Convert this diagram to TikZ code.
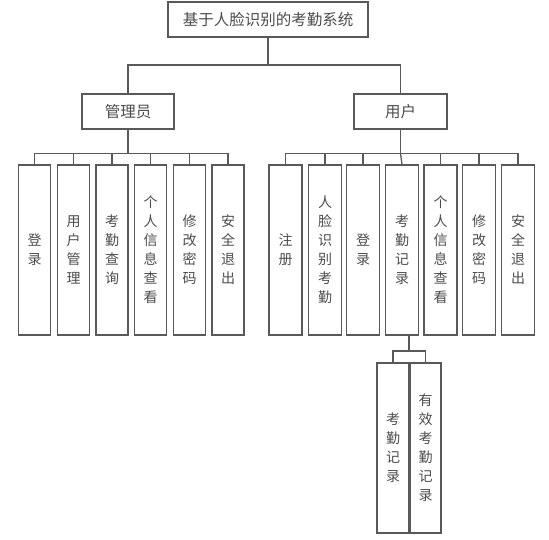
\documentclass[tikz,border=0pt]{standalone}
\usepackage{fontspec}
\newfontfamily\cjk{Noto Sans CJK SC}
\usepackage{tikz}
\usetikzlibrary{positioning,calc}

\begin{document}
\begin{tikzpicture}[x=1pt,y=-1pt,
  hbox/.style ={rectangle,draw=black!65,line width=1.1pt,inner sep=0pt,
                minimum height=35pt,font=\cjk\fontsize{15.5}{19}\selectfont,text=black!70},
  vbox/.style ={rectangle,draw=black!65,line width=1.1pt,inner sep=0pt,
                minimum width=32pt,minimum height=170pt,align=center,
                font=\cjk\fontsize{14}{19}\selectfont,text=black!70},
  link/.style ={draw=black!65,line width=1.25pt},
]
\useasboundingbox (0,0) rectangle (549,540);
% top levels
\node[hbox,minimum width=200pt] (sys) at (268,19.5)  {基于人脸识别的考勤系统};
\node[hbox,minimum width=92pt]  (adm) at (128,111.5) {管理员};
\node[hbox,minimum width=93pt]  (usr) at (400.5,111.5) {用户};
% administrator functions
\node[vbox] (a1) at (34.5,250)  {登\\录};
\node[vbox] (a2) at (73.5,250)  {用\\户\\管\\理};
\node[vbox] (a3) at (112,250)   {考\\勤\\查\\询};
\node[vbox] (a4) at (150.5,250) {个\\人\\信\\息\\查\\看};
\node[vbox] (a5) at (189.5,250) {修\\改\\密\\码};
\node[vbox] (a6) at (228,250)   {安\\全\\退\\出};
% user functions
\node[vbox,minimum width=33pt] (u1) at (285.5,250) {注\\册};
\node[vbox,minimum width=33pt] (u2) at (325,250)   {人\\脸\\识\\别\\考\\勤};
\node[vbox,minimum width=33pt] (u3) at (363,250)   {登\\录};
\node[vbox,minimum width=33pt] (u4) at (402,250)   {考\\勤\\记\\录};
\node[vbox,minimum width=33pt] (u5) at (440.5,250) {个\\人\\信\\息\\查\\看};
\node[vbox,minimum width=33pt] (u6) at (479,250)   {修\\改\\密\\码};
\node[vbox,minimum width=33pt] (u7) at (518,250)   {安\\全\\退\\出};
% attendance records
\node[vbox] (k1) at (393,448)               {考\\勤\\记\\录};
\node[vbox,minimum width=31pt] (k2) at (425.5,448) {有\\效\\考\\勤\\记\\录};

\draw[link] (sys.south) -- ++(0,27.5) coordinate (sb);
\draw[link] (sb) -| (adm.north);
\draw[link] (sb) -| (usr.north);

\draw[link] (adm.south) -- ++(0,24) coordinate (ab);
\foreach \n in {a1,a2,a3,a4,a5,a6} \draw[link] (ab) -| (\n.north);

\draw[link] (usr.south) -- ++(0,24) coordinate (ub);
\foreach \n in {u1,u2,u3,u5,u6,u7} \draw[link] (ub) -| (\n.north);
\draw[link] (ub) -- (u4.north);

\coordinate (kb) at (409,351);
\draw[link] (u4.south -| kb) -- (kb);
\draw[link] (kb) -| (k1.north);
\draw[link] (kb) -| (k2.north);
\end{tikzpicture}
\end{document}
